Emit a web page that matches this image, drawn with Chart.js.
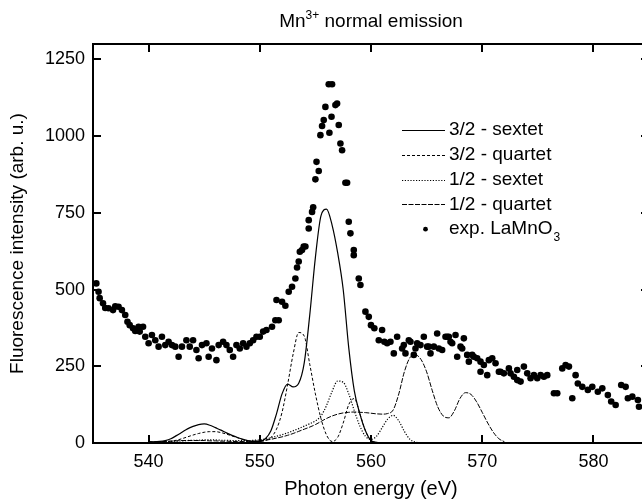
<!DOCTYPE html>
<html>
<head>
<meta charset="utf-8">
<script src="https://cdn.jsdelivr.net/npm/chart.js@4/dist/chart.umd.min.js"></script>
<style>
  html, body { margin: 0; padding: 0; background: #fff; overflow: hidden; }
  #wrap { width: 660px; height: 502px; }
</style>
</head>
<body>
<div id="wrap"><canvas id="chartCanvas" width="660" height="502"></canvas></div>
<script>
// Mn3+ normal emission: calculated multiplets vs. measured LaMnO3

const FONT = '"Liberation Sans", Arial, sans-serif';

const xTicks = [540, 550, 560, 570, 580];
const yTicks = [0, 250, 500, 750, 1000, 1250];

// energy grid of the calculated curves (eV)
const fitEnergy = [540, 540.5, 541, 541.5, 542, 542.5, 543, 543.5, 544, 544.5,
  545, 545.5, 546, 546.5, 547, 547.5, 548, 548.5, 549, 549.5,
  550, 550.5, 551, 551.5, 552, 552.5, 553, 553.5, 554, 554.5,
  555, 555.5, 556, 556.5, 557, 557.5, 558, 558.5, 559, 559.5,
  560, 560.5, 561, 561.5, 562, 562.5, 563, 563.5, 564, 564.5,
  565, 565.5, 566, 566.5, 567, 567.5, 568, 568.5, 569, 569.5,
  570, 570.5, 571, 571.5, 572];

const sextet32 = [4, 4, 5, 8, 14, 24, 35, 46, 54, 60,
  62, 58, 50, 42, 33, 25, 18, 12, 7, 5,
  6, 14, 40, 95, 160, 192, 183, 195, 262, 420,
  605, 740, 762, 710, 620, 500, 310, 170, 95, 40,
  8, 2, 0, 0, 0, 0, 0, 0, 0, 0,
  0, 0, 0, 0, 0, 0, 0, 0, 0, 0,
  0, 0, 0, 0, 0];

const quartet32 = [4, 4, 4, 5, 6, 9, 14, 20, 26, 31,
  35, 37, 37, 34, 29, 23, 17, 11, 7, 5,
  5, 8, 18, 45, 100, 190, 290, 360, 348, 255,
  160, 80, 26, 5, 18, 65, 125, 145, 95, 40,
  8, 2, 0, 0, 0, 0, 0, 0, 0, 0,
  0, 0, 0, 0, 0, 0, 0, 0, 0, 0,
  0, 0, 0, 0, 0];

const sextet12 = [3, 3, 3, 4, 5, 6, 7, 8, 9, 9,
  10, 10, 10, 9, 9, 8, 8, 8, 8, 9,
  10, 13, 17, 22, 27, 33, 40, 47, 55, 63,
  72, 88, 122, 168, 202, 198, 160, 105, 55, 22,
  12, 22, 50, 78, 90, 72, 38, 12, 3, 1,
  1, 1, 1, 1, 1, 1, 1, 1, 1, 1,
  1, 1, 1, 1, 1];

const quartet12 = [3, 3, 4, 5, 6, 7, 8, 8, 8, 8,
  8, 7, 7, 6, 6, 5, 5, 5, 5, 6,
  7, 9, 12, 16, 20, 25, 31, 38, 45, 52,
  60, 70, 80, 88, 94, 98, 100, 101, 100, 99,
  97, 95, 94, 96, 108, 160, 232, 278, 287, 272,
  232, 172, 118, 88, 82, 105, 145, 164, 158, 134,
  100, 65, 35, 14, 4];

// measured points, exp. LaMnO3
const expEnergy = [535.3, 535.5, 535.6, 535.9, 536.1, 536.4, 536.8, 537.0, 537.3, 537.6,
  537.9, 538.1, 538.3, 538.6, 538.8, 539.1, 539.2, 539.5, 539.7, 540.0,
  540.3, 540.6, 540.9, 541.2, 541.5, 541.8, 542.1, 542.4, 542.7, 543.0,
  543.4, 543.7, 544.0, 544.3, 544.5, 544.8, 545.2, 545.4, 545.7, 546.1,
  546.3, 546.7, 547.0, 547.3, 547.6, 547.9, 548.2, 548.5, 548.8, 549.1,
  549.4, 549.7, 550.0, 550.3, 550.6, 551.1, 551.4, 551.5, 551.7, 552.0,
  552.3, 552.6, 552.9, 553.2, 553.35, 553.5, 553.6, 553.8, 553.95, 554.1,
  554.4, 554.4, 554.7, 554.8, 555.0, 555.1, 555.3, 555.45, 555.6, 555.75,
  555.9, 556.2, 556.26, 556.45, 556.5, 556.8, 556.95, 557.1, 557.25, 557.4,
  557.7, 557.85, 558.0, 558.15, 558.45, 558.45, 558.9, 559.05, 559.5, 559.8,
  560.0, 560.3, 560.7, 561.0, 561.2, 561.45, 561.75, 562.05, 562.35, 562.8,
  562.95, 563.1, 563.4, 563.55, 563.85, 564.0, 564.15, 564.45, 564.75, 565.05,
  565.2, 565.35, 565.65, 565.95, 566.1, 566.4, 566.7, 566.85, 567.0, 567.15,
  567.3, 567.6, 567.75, 568.05, 568.2, 568.35, 568.65, 568.8, 569.1, 569.25,
  569.55, 569.85, 569.85, 570.15, 570.45, 570.6, 570.9, 571.2, 571.5, 571.65,
  571.95, 572.4, 572.55, 572.85, 573.15, 573.15, 573.45, 573.75, 574.05, 574.35,
  574.65, 574.95, 575.25, 575.55, 575.85, 576.45, 576.75, 577.2, 577.5, 577.8,
  578.1, 578.4, 578.6, 579.0, 579.5, 579.9, 580.4, 580.8, 581.3, 581.6,
  582.0, 582.5, 582.9, 583.1, 583.5, 584.0, 584.1];

const expIntensity = [520, 493, 472, 455, 440, 439, 433, 445, 444, 433,
  417, 395, 384, 374, 365, 379, 363, 379, 346, 325,
  352, 335, 314, 346, 319, 330, 319, 314, 281, 314,
  335, 314, 335, 303, 276, 319, 325, 281, 308, 270,
  319, 330, 319, 303, 281, 319, 308, 325, 314, 325,
  335, 346, 346, 363, 368, 379, 400, 466, 400, 460,
  447, 493, 509, 536, 572, 591, 623, 629, 640, 640,
  699, 726, 753, 768, 859, 916, 886, 1003, 1033, 1052,
  1095, 1169, 1011, 1063, 1169, 1101, 1106, 1036, 976, 954,
  848, 848, 721, 683, 629, 612, 536, 515, 428, 411,
  384, 374, 335, 368, 330, 325, 330, 292, 346, 308,
  319, 292, 335, 330, 287, 308, 325, 319, 346, 314,
  314, 292, 314, 357, 308, 303, 346, 346, 346, 330,
  325, 352, 281, 314, 308, 341, 287, 265, 287, 281,
  276, 265, 232, 254, 221, 270, 276, 260, 232, 232,
  227, 243, 227, 216, 205, 238, 200, 249, 227, 211,
  221, 211, 221, 216, 221, 162, 162, 243, 254, 249,
  146, 221, 194, 183, 173, 183, 167, 178, 156, 135,
  124, 189, 183, 146, 151, 140, 118];

function toPoints(xs, ys) {
  return xs.map((x, i) => ({ x: x, y: ys[i] }));
}

function fitLine(label, ys, dash, width) {
  return {
    label: label,
    data: toPoints(fitEnergy, ys),
    borderColor: '#000',
    borderWidth: width,
    borderDash: dash,
    pointRadius: 0,
    fill: false,
    tension: 0.4,
    cubicInterpolationMode: 'monotone'
  };
}

// box with inward ticks on all four sides
const framePlugin = {
  id: 'frame',
  afterDatasetsDraw(chart) {
    const { ctx, chartArea: a, scales } = chart;
    const len = 8;
    ctx.save();
    ctx.strokeStyle = '#000';
    ctx.lineWidth = 2;
    ctx.strokeRect(a.left, a.top, a.right - a.left, a.bottom - a.top);
    ctx.beginPath();
    xTicks.forEach(v => {
      const px = Math.round(scales.x.getPixelForValue(v));
      ctx.moveTo(px, a.bottom); ctx.lineTo(px, a.bottom - len);
      ctx.moveTo(px, a.top); ctx.lineTo(px, a.top + len);
    });
    yTicks.forEach(v => {
      const py = Math.round(scales.y.getPixelForValue(v));
      ctx.moveTo(a.left, py); ctx.lineTo(a.left + len, py);
      ctx.moveTo(a.right, py); ctx.lineTo(a.right - len, py);
    });
    ctx.stroke();
    ctx.restore();
  }
};

// title with superscript charge
const titlePlugin = {
  id: 'mnTitle',
  afterDraw(chart) {
    const ctx = chart.ctx;
    const a = chart.chartArea;
    const cx = (a.left + a.right) / 2;
    const big = '19px ' + FONT;
    const small = '12px ' + FONT;
    ctx.save();
    ctx.fillStyle = '#000';
    ctx.textBaseline = 'alphabetic';
    ctx.textAlign = 'left';
    ctx.font = big;
    const w1 = ctx.measureText('Mn').width;
    const w3 = ctx.measureText(' normal emission').width;
    ctx.font = small;
    const w2 = ctx.measureText('3+').width;
    let x = cx - (w1 + w2 + w3) / 2;
    const y = 27;
    ctx.font = big;
    ctx.fillText('Mn', x, y);
    x += w1;
    ctx.font = small;
    ctx.fillText('3+', x, y - 8);
    x += w2;
    ctx.font = big;
    ctx.fillText(' normal emission', x, y);
    ctx.restore();
  }
};

// legend inside the plot
const legendPlugin = {
  id: 'insideLegend',
  afterDraw(chart) {
    const ctx = chart.ctx;
    const x0 = 402, x1 = 445, tx = 449, y0 = 130, step = 24.8;
    ctx.save();
    ctx.fillStyle = '#000';
    ctx.strokeStyle = '#000';
    ctx.textBaseline = 'middle';
    ctx.textAlign = 'left';
    chart.data.datasets.forEach((ds, i) => {
      const y = y0 + i * step;
      if (ds.showLine === false) {
        ctx.beginPath();
        ctx.arc((x0 + x1) / 2 + 2, y, 2.4, 0, Math.PI * 2);
        ctx.fill();
        ctx.font = '19px ' + FONT;
        const main = 'exp. LaMnO';
        ctx.fillText(main, tx, y);
        const w = ctx.measureText(main).width;
        ctx.font = '12px ' + FONT;
        ctx.fillText('3', tx + w + 1, y + 8);
      } else {
        ctx.beginPath();
        ctx.lineWidth = ds.borderWidth;
        ctx.setLineDash(ds.borderDash);
        ctx.moveTo(x0, Math.round(y) + 0.5);
        ctx.lineTo(x1, Math.round(y) + 0.5);
        ctx.stroke();
        ctx.setLineDash([]);
        ctx.font = '19px ' + FONT;
        ctx.fillText(ds.label, tx, y);
      }
    });
    ctx.restore();
  }
};

const ctx = document.getElementById('chartCanvas').getContext('2d');

new Chart(ctx, {
  type: 'line',
  data: {
    datasets: [
      fitLine('3/2 - sextet', sextet32, [], 1.2),
      fitLine('3/2 - quartet', quartet32, [3, 2], 1),
      fitLine('1/2 - sextet', sextet12, [1.2, 1.6], 1.2),
      fitLine('1/2 - quartet', quartet12, [5, 1.5], 1),
      {
        label: 'exp. LaMnO3',
        data: toPoints(expEnergy, expIntensity),
        showLine: false,
        pointRadius: 3.3,
        pointBackgroundColor: '#000',
        pointBorderWidth: 0,
        borderColor: '#000'
      }
    ]
  },
  options: {
    responsive: false,
    animation: false,
    devicePixelRatio: 1,
    layout: { padding: { top: 44, right: 11, left: 0, bottom: 0 } },
    plugins: {
      legend: { display: false },
      title: { display: false },
      tooltip: { enabled: false }
    },
    scales: {
      x: {
        type: 'linear',
        min: 535,
        max: 585,
        afterBuildTicks: s => { s.ticks = xTicks.map(v => ({ value: v })); },
        afterFit: s => { s.height = 59; },
        grid: { display: false, drawTicks: false },
        border: { display: false },
        ticks: {
          color: '#000',
          font: { size: 18, family: FONT },
          padding: 8,
          maxRotation: 0,
          autoSkip: false,
          callback: v => String(v)
        },
        title: {
          display: true,
          text: 'Photon energy (eV)',
          color: '#000',
          font: { size: 20, family: FONT },
          padding: { top: 0, bottom: 1 }
        }
      },
      y: {
        type: 'linear',
        min: 0,
        max: 1300,
        afterBuildTicks: s => { s.ticks = yTicks.map(v => ({ value: v })); },
        afterFit: s => { s.width = 93; },
        grid: { display: false, drawTicks: false },
        border: { display: false },
        ticks: {
          color: '#000',
          font: { size: 18, family: FONT },
          padding: 8,
          callback: v => String(v)
        },
        title: {
          display: true,
          text: 'Fluorescence intensity (arb. u.)',
          color: '#000',
          font: { size: 19, family: FONT },
          padding: { top: 6, bottom: 0 }
        }
      }
    }
  },
  plugins: [framePlugin, titlePlugin, legendPlugin]
});
</script>
</body>
</html>
